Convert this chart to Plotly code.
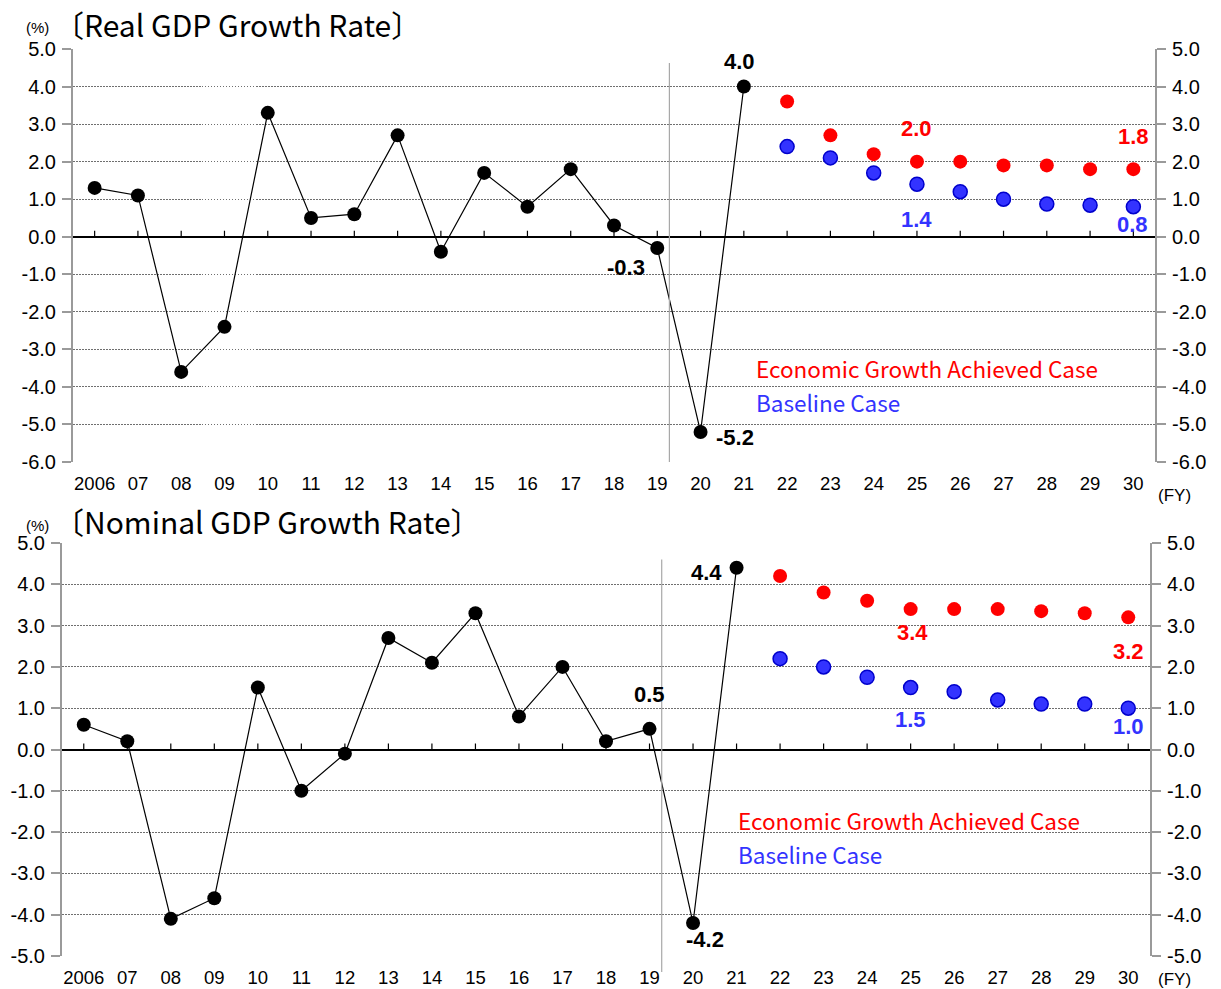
import plotly.graph_objects as go

W, H = 1221, 989

years = ["2006", "07", "08", "09", "10", "11", "12", "13", "14", "15", "16", "17",
         "18", "19", "20", "21", "22", "23", "24", "25", "26", "27", "28", "29", "30"]
actual_years = years[:16]
outlook_years = years[16:]

# Real GDP growth rate (%)
real_actual = [1.3, 1.1, -3.6, -2.4, 3.3, 0.5, 0.6, 2.7, -0.4, 1.7, 0.8, 1.8, 0.3, -0.3, -5.2, 4.0]
real_growth_case = [3.6, 2.7, 2.2, 2.0, 2.0, 1.9, 1.9, 1.8, 1.8]
real_baseline = [2.4, 2.1, 1.7, 1.4, 1.2, 1.0, 0.87, 0.84, 0.8]

# Nominal GDP growth rate (%)
nominal_actual = [0.6, 0.2, -4.1, -3.6, 1.5, -1.0, -0.1, 2.7, 2.1, 3.3, 0.8, 2.0, 0.2, 0.5, -4.2, 4.4]
nominal_growth_case = [4.2, 3.8, 3.6, 3.4, 3.4, 3.4, 3.35, 3.3, 3.2]
nominal_baseline = [2.2, 2.0, 1.75, 1.5, 1.4, 1.2, 1.1, 1.1, 1.0]

y_ticks_real = list(range(-6, 6))
y_ticks_nominal = list(range(-5, 6))

RED = "#ff0000"
BLUE = "#3333ff"
BLUE_EDGE = "#0000cc"
GRID = "#6f6f6f"
AXIS = "#9a9a9a"
NUM_FONT = "Liberation Sans, Arial, sans-serif"
TXT_FONT = "Noto Sans CJK JP, Noto Sans, sans-serif"


def px_x(p):
    return p / W


def px_y(p):
    return 1 - p / H


def idx(cat):
    return years.index(cat)


panels = [
    dict(name="Real GDP Growth Rate", actual=real_actual, growth=real_growth_case,
         base=real_baseline, yr=[-6, 5], yt=y_ticks_real,
         dom_x=[px_x(73), px_x(1155)], dom_y=[px_y(462), px_y(49)],
         title_y=24, fy_y=495, sep_x=13.28, sep_top=4.63, sep_bottom=None,
         legend_x=754, legend_y=(368, 402)),
    dict(name="Nominal GDP Growth Rate", actual=nominal_actual, growth=nominal_growth_case,
         base=nominal_baseline, yr=[-5, 5], yt=y_ticks_nominal,
         dom_x=[px_x(62), px_x(1150)], dom_y=[px_y(956), px_y(543)],
         title_y=521, fy_y=979, sep_x=13.28, sep_top=4.6, sep_bottom=px_y(972),
         legend_x=736, legend_y=(820, 854)),
]

fig = go.Figure()
shapes = []
annotations = []

for k, p in enumerate(panels):
    n = k + 1
    xa = "x" if n == 1 else f"x{n}"
    ya = "y" if n == 1 else f"y{n}"
    yr_name = f"y{n + 2}"

    # actual results: black line with markers
    fig.add_trace(go.Scatter(
        x=actual_years, y=p["actual"], mode="lines+markers", xaxis=xa, yaxis=ya,
        line=dict(color="black", width=1.2),
        marker=dict(color="black", size=14, line=dict(color="black", width=0)),
        showlegend=False, hoverinfo="skip"))
    # economic growth achieved case
    fig.add_trace(go.Scatter(
        x=outlook_years, y=p["growth"], mode="markers", xaxis=xa, yaxis=ya,
        marker=dict(color=RED, size=14, line=dict(color=RED, width=0)),
        showlegend=False, hoverinfo="skip"))
    # baseline case
    fig.add_trace(go.Scatter(
        x=outlook_years, y=p["base"], mode="markers", xaxis=xa, yaxis=ya,
        marker=dict(color=BLUE, size=14, line=dict(color=BLUE_EDGE, width=1.5)),
        showlegend=False, hoverinfo="skip"))

    fig.update_layout(**{
        ("xaxis" if n == 1 else f"xaxis{n}"): dict(
            domain=p["dom_x"], anchor=ya, type="category",
            categoryorder="array", categoryarray=years, range=[-0.5, 24.5],
            showgrid=False, zeroline=False, showline=False, ticks="",
            tickfont=dict(family=NUM_FONT, size=18.5, color="black"),
            ticklabelstandoff=8, automargin=False),
        ("yaxis" if n == 1 else f"yaxis{n}"): dict(
            domain=p["dom_y"], anchor=xa, range=p["yr"], tickvals=p["yt"],
            ticktext=[f"{v:.1f}" for v in p["yt"]],
            showgrid=True, gridcolor=GRID, griddash="1.5px,1.5px", gridwidth=1,
            zeroline=True, zerolinecolor="black", zerolinewidth=2,
            showline=True, linecolor=AXIS, linewidth=2,
            ticks="outside", ticklen=9, tickcolor=AXIS, tickwidth=2,
            tickfont=dict(family=NUM_FONT, size=20, color="black"),
            ticklabelstandoff=2, automargin=False),
        f"yaxis{n + 2}": dict(
            overlaying=ya, anchor=xa, side="right", range=p["yr"], tickvals=p["yt"],
            ticktext=[f"{v:.1f}" for v in p["yt"]],
            showgrid=False, zeroline=False,
            showline=True, linecolor=AXIS, linewidth=2,
            ticks="outside", ticklen=9, tickcolor=AXIS, tickwidth=2,
            tickfont=dict(family=NUM_FONT, size=20, color="black"),
            ticklabelstandoff=2, automargin=False),
    })
    # keep the right-hand axis alive with an empty trace
    fig.add_trace(go.Scatter(x=[None], y=[None], xaxis=xa, yaxis=yr_name,
                             showlegend=False, hoverinfo="skip"))

    # small tick marks on the zero line
    for yv in years:
        shapes.append(dict(type="line", xref=xa, yref=ya, x0=idx(yv), x1=idx(yv),
                           ysizemode="pixel", yanchor=0, y0=0, y1=6,
                           line=dict(color="black", width=1.2)))

    # separator between results and outlook
    sep = dict(type="line", xref=xa, x0=p["sep_x"], x1=p["sep_x"],
               line=dict(color="#a8a8a8", width=1.2))
    if p["sep_bottom"] is None:
        sep.update(yref=ya, y0=p["yr"][0], y1=p["sep_top"])
    else:
        y_top_frac = p["dom_y"][0] + (p["sep_top"] - p["yr"][0]) / (p["yr"][1] - p["yr"][0]) * (p["dom_y"][1] - p["dom_y"][0])
        sep.update(yref="paper", y0=p["sep_bottom"], y1=y_top_frac)
    shapes.append(sep)

    # panel heading
    annotations.append(dict(xref="paper", yref="paper", x=px_x(37), y=px_y(p["title_y"] + 4),
                            text="(%)", showarrow=False, xanchor="center", yanchor="middle",
                            font=dict(family=NUM_FONT, size=15, color="black")))
    annotations.append(dict(xref="paper", yref="paper", x=px_x(52), y=px_y(p["title_y"]),
                            text=f"〔{p['name']}〕", showarrow=False, xanchor="left",
                            yanchor="middle",
                            font=dict(family=TXT_FONT, size=30, color="black")))
    annotations.append(dict(xref="paper", yref="paper", x=px_x(1156), y=px_y(p["fy_y"]),
                            text="(FY)", showarrow=False, xanchor="left", yanchor="middle",
                            font=dict(family=NUM_FONT, size=17, color="black")))

    # case labels
    annotations.append(dict(xref="paper", yref="paper", x=px_x(p["legend_x"]),
                            y=px_y(p["legend_y"][0]), text="Economic Growth Achieved Case",
                            showarrow=False, xanchor="left", yanchor="middle",
                            font=dict(family=TXT_FONT, size=22.5, color=RED)))
    annotations.append(dict(xref="paper", yref="paper", x=px_x(p["legend_x"]),
                            y=px_y(p["legend_y"][1]), text="Baseline Case",
                            showarrow=False, xanchor="left", yanchor="middle",
                            font=dict(family=TXT_FONT, size=22.5, color=BLUE)))


def value_label(xa, ya, cat, val, color, dx, dy):
    annotations.append(dict(xref=xa, yref=ya, x=idx(cat), y=val, text=f"{val:.1f}",
                            showarrow=False, xshift=dx, yshift=dy,
                            font=dict(family=NUM_FONT, size=22, color=color,
                                      weight="bold")))


# Real GDP value labels
value_label("x", "y", "21", real_actual[15], "black", -4, 25)
value_label("x", "y", "19", real_actual[13], "black", -31, -20)
value_label("x", "y", "20", real_actual[14], "black", 34, -6)
value_label("x", "y", "25", real_growth_case[3], RED, 0, 33)
value_label("x", "y", "30", real_growth_case[8], RED, 0, 33)
value_label("x", "y", "25", real_baseline[3], BLUE, 0, -35)
value_label("x", "y", "30", real_baseline[8], BLUE, -1, -18)

# Nominal GDP value labels
value_label("x2", "y2", "21", nominal_actual[15], "black", -30, -5)
value_label("x2", "y2", "19", nominal_actual[13], "black", 0, 34)
value_label("x2", "y2", "20", nominal_actual[14], "black", 12, -17)
value_label("x2", "y2", "25", nominal_growth_case[3], RED, 2, -23)
value_label("x2", "y2", "30", nominal_growth_case[8], RED, 0, -34)
value_label("x2", "y2", "25", nominal_baseline[3], BLUE, 0, -32)
value_label("x2", "y2", "30", nominal_baseline[8], BLUE, 0, -18)

fig.update_layout(
    width=W, height=H, margin=dict(l=0, r=0, t=0, b=0),
    paper_bgcolor="white", plot_bgcolor="white",
    shapes=shapes, annotations=annotations, showlegend=False,
)

fig.write_html("out.html")
